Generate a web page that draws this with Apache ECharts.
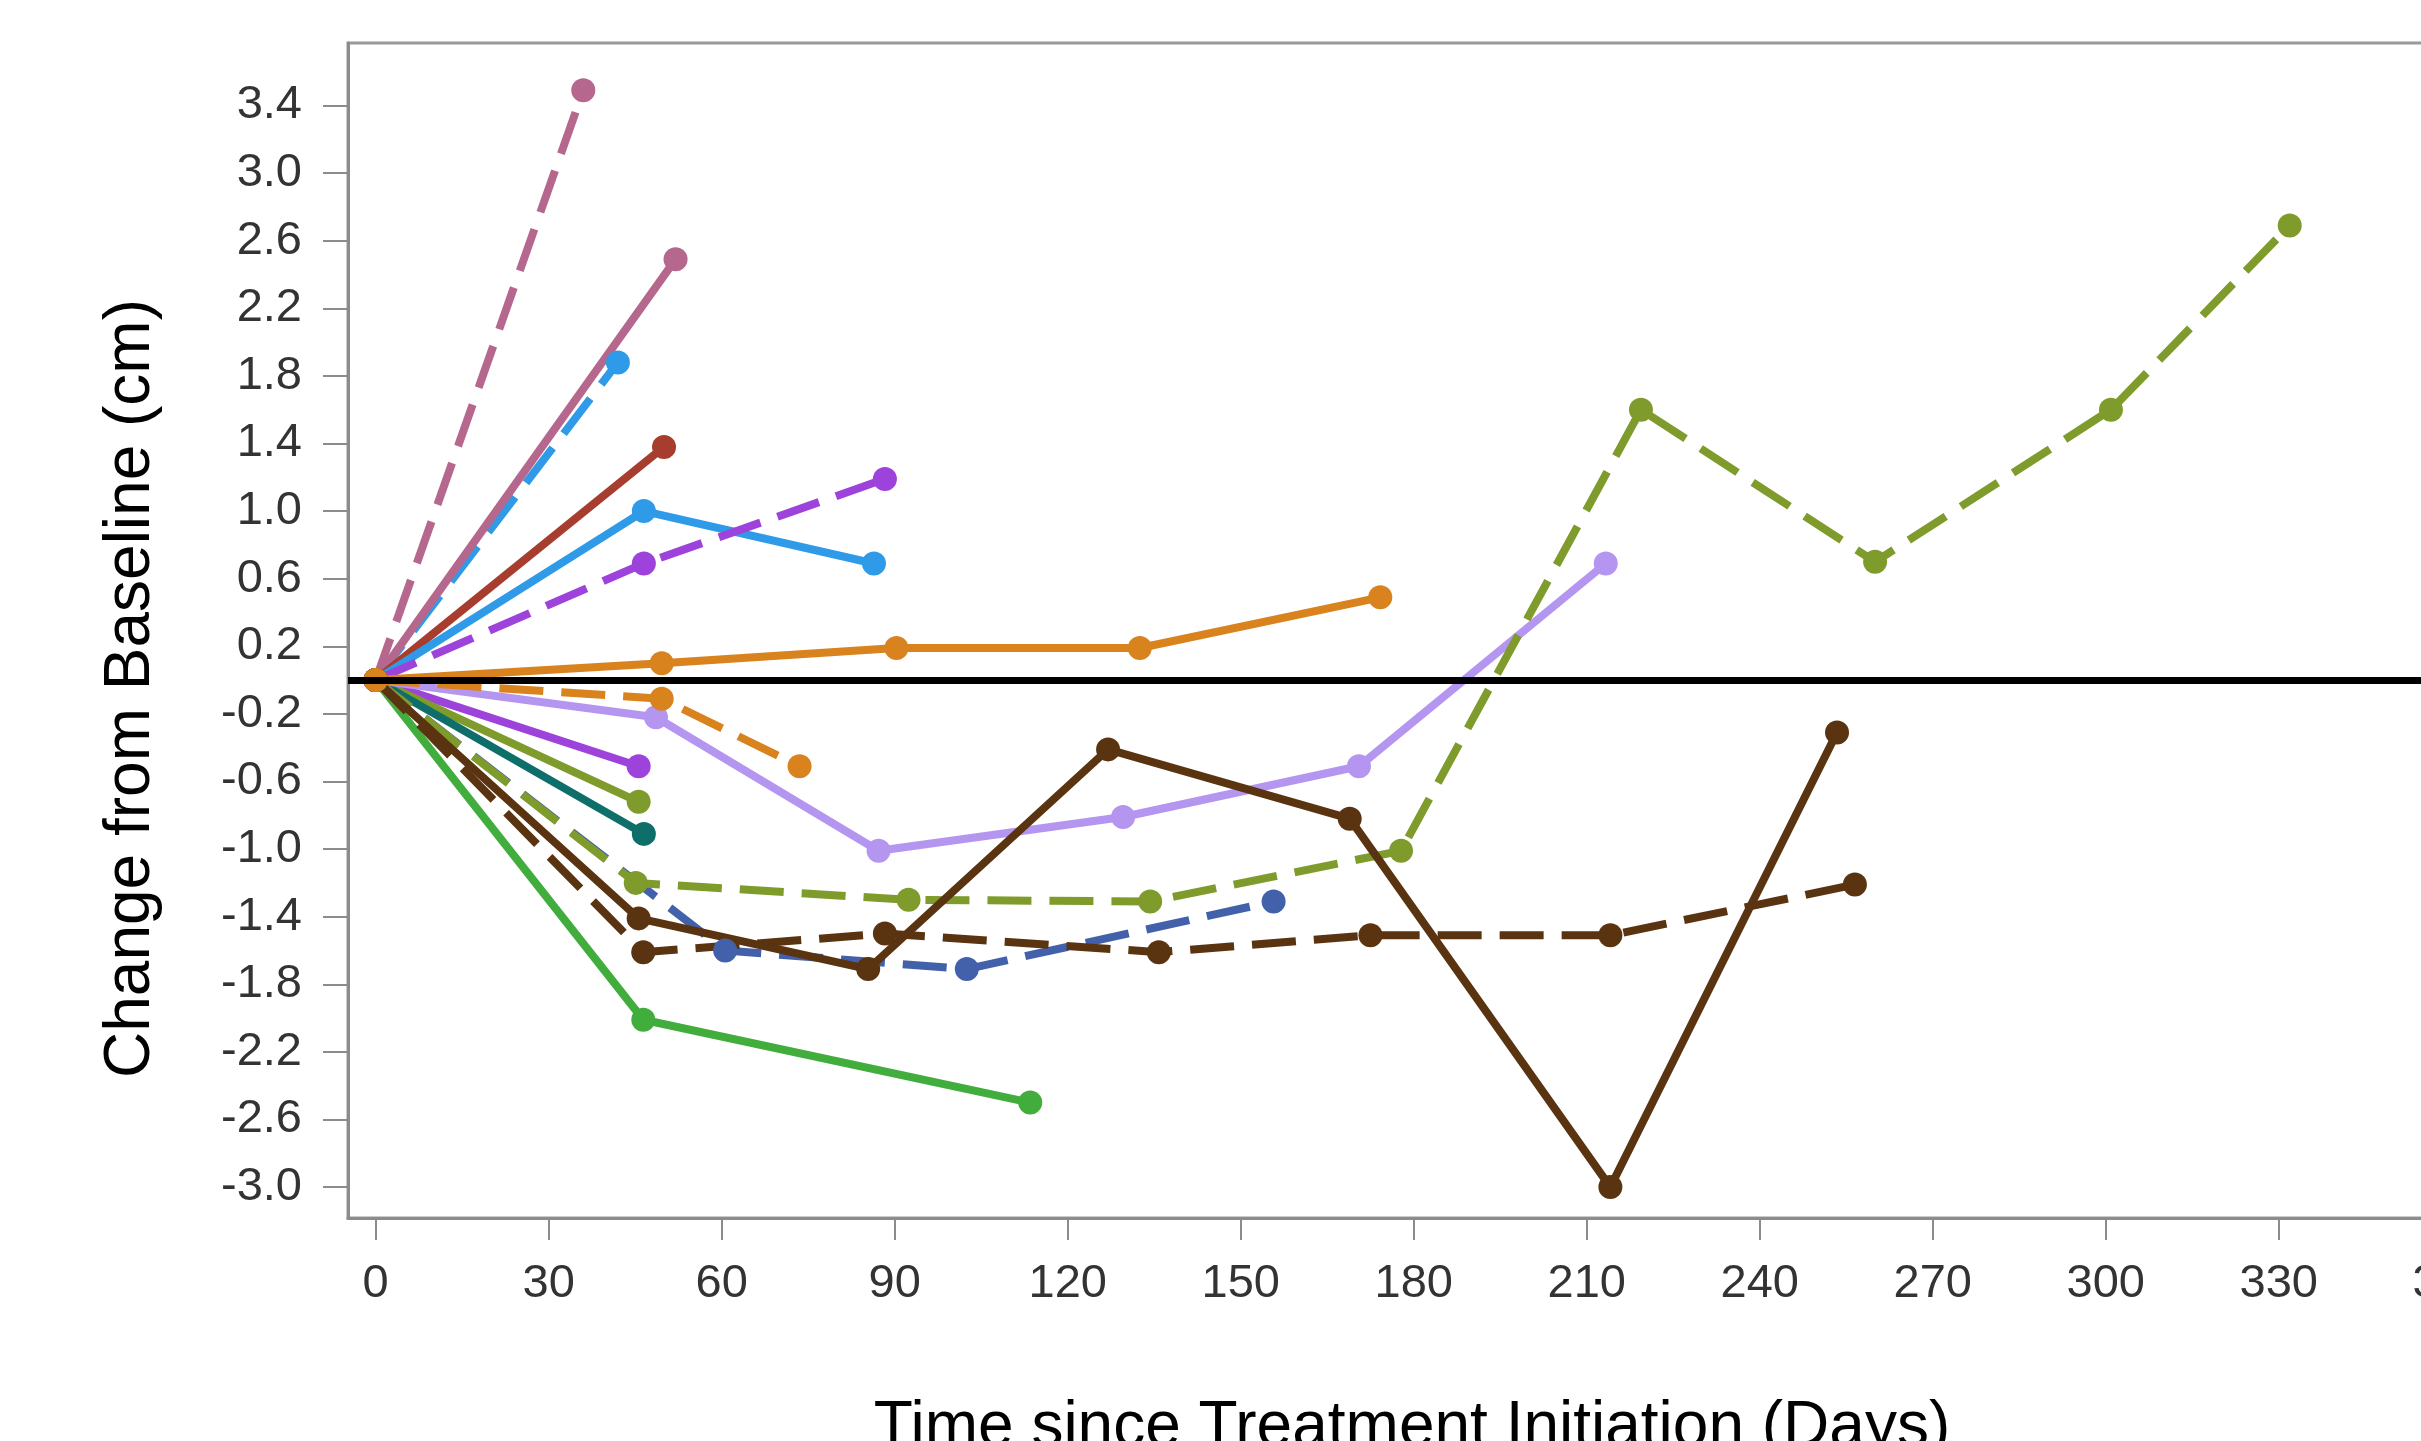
<!DOCTYPE html>
<html>
<head>
<meta charset="utf-8">
<title>Change from Baseline</title>
<script src="https://cdn.jsdelivr.net/npm/echarts@6/dist/echarts.min.js"></script>
<style>
	html, body { margin: 0; padding: 0; background: #fff; }
	#chart { width: 2421px; height: 1441px; }
</style>
</head>
<body>
<div id="chart"></div>
<script>
// tick labels
var xTicks = [0, 30, 60, 90, 120, 150, 180, 210, 240, 270, 300, 330, 360];
var yTicks = [-3.0, -2.6, -2.2, -1.8, -1.4, -1.0, -0.6, -0.2, 0.2, 0.6, 1.0, 1.4, 1.8, 2.2, 2.6, 3.0, 3.4];

// one array per subject: [day, change (cm)]
var mauveDash   = [[0, 0], [36, 3.49]];
var blueDash    = [[0, 0], [42, 1.88]];
var mauveSolid  = [[0, 0], [52, 2.49]];
var redSolid    = [[0, 0], [50, 1.38]];
var blueSolid   = [[0, 0], [46.5, 1.0], [86.4, 0.69]];
var purpleDash  = [[0, 0], [46.5, 0.69], [88.3, 1.19]];
var purpleSolid = [[0, 0], [45.6, -0.51]];
var oliveSolid  = [[0, 0], [45.6, -0.72]];
var tealSolid   = [[0, 0], [46.5, -0.91]];
var greenSolid  = [[0, 0], [46.4, -2.01], [113.5, -2.5]];
var lilacSolid  = [[0, 0], [48.6, -0.22], [87.2, -1.01], [129.6, -0.81], [170.5, -0.51], [213.3, 0.69]];
var navyDash    = [[0, 0], [60.6, -1.6], [102.5, -1.71], [155.7, -1.31]];
var oliveDash   = [[0, 0], [45.1, -1.2], [92.4, -1.3], [134.3, -1.31], [177.8, -1.01], [219.4, 1.6], [260, 0.7], [300.9, 1.6], [331.9, 2.69]];
var brownDash   = [[0, 0], [46.4, -1.61], [88.3, -1.5], [135.8, -1.61], [172.5, -1.51], [214.1, -1.51], [256.5, -1.21]];
var brownSolid  = [[0, 0], [45.6, -1.41], [85.4, -1.71], [127, -0.41], [168.9, -0.82], [214.1, -3.0], [253.4, -0.31]];
var orangeDash  = [[0, 0], [49.6, -0.11], [73.5, -0.51]];
var orangeSolid = [[0, 0], [49.6, 0.1], [90.3, 0.19], [132.5, 0.19], [174.2, 0.49]];

// draw order and look of each subject
var subjects = [
	{data: mauveDash,   color: '#b5678e', dash: true},
	{data: blueDash,    color: '#2f9be8', dash: true},
	{data: mauveSolid,  color: '#b5678e', dash: false},
	{data: redSolid,    color: '#a63d2e', dash: false},
	{data: blueSolid,   color: '#2f9be8', dash: false},
	{data: purpleDash,  color: '#9d42db', dash: true},
	{data: purpleSolid, color: '#9d42db', dash: false},
	{data: oliveSolid,  color: '#7f9b2c', dash: false},
	{data: tealSolid,   color: '#0e6e6a', dash: false},
	{data: greenSolid,  color: '#40ad3d', dash: false},
	{data: lilacSolid,  color: '#b495f0', dash: false},
	{data: navyDash,    color: '#4361aa', dash: true},
	{data: oliveDash,   color: '#7f9b2c', dash: true},
	{data: brownDash,   color: '#5a3410', dash: true},
	{data: brownSolid,  color: '#5a3410', dash: false},
	{data: orangeDash,  color: '#d9831f', dash: true},
	{data: orangeSolid, color: '#d9831f', dash: false}
];

var FONT = '"Liberation Sans", Arial, Helvetica, sans-serif';

var myChart = echarts.init(document.getElementById('chart'));

var series = [];
for (var i = 0; i < subjects.length; i++) {
	var s = subjects[i];
	series.push({
		type: 'line',
		data: s.data,
		symbol: 'circle',
		symbolSize: 24,
		showAllSymbol: true,
		itemStyle: {color: s.color},
		lineStyle: {color: s.color, width: 8, type: s.dash ? [44, 18] : 'solid'},
		emphasis: {disabled: true},
		z: 2
	});
}
// zero reference line on top
series[series.length - 1].markLine = {
	silent: true,
	symbol: 'none',
	z: 10,
	label: {show: false},
	lineStyle: {color: '#000', width: 7, type: 'solid'},
	data: [{yAxis: 0}]
};

var option = {
	animation: false,
	backgroundColor: '#fff',
	grid: {
		left: 348,
		top: 43,
		width: 2128,
		height: 1175,
		outerBoundsMode: 'none',
		containLabel: false,
		show: true,
		borderColor: '#999',
		borderWidth: 3,
		backgroundColor: '#fff'
	},
	xAxis: {
		type: 'value',
		min: -4.8,
		max: 364.2,
		name: 'Time since Treatment Initiation (Days)',
		nameLocation: 'middle',
		nameGap: 178,
		nameTextStyle: {fontSize: 64, lineHeight: 64, color: '#000', fontFamily: FONT},
		axisLine: {show: true, onZero: false, lineStyle: {color: '#8c8c8c', width: 3}},
		axisTick: {show: true, length: 22, customValues: xTicks, lineStyle: {color: '#8c8c8c', width: 2}},
		axisLabel: {customValues: xTicks, margin: 43, fontSize: 47, color: '#333', fontFamily: FONT},
		splitLine: {show: false}
	},
	yAxis: {
		type: 'value',
		min: -3.183,
		max: 3.77,
		name: 'Change from Baseline (cm)',
		nameLocation: 'middle',
		nameGap: 185,
		nameTextStyle: {fontSize: 64, lineHeight: 64, color: '#000', fontFamily: FONT, padding: [0, 116, 0, 0]},
		axisLine: {show: true, onZero: false, lineStyle: {color: '#8c8c8c', width: 3}},
		axisTick: {show: true, length: 25, customValues: yTicks, lineStyle: {color: '#8c8c8c', width: 2}},
		axisLabel: {
			customValues: yTicks,
			margin: 46,
			fontSize: 47,
			color: '#333',
			fontFamily: FONT,
			formatter: function(v) { return v.toFixed(1); }
		},
		splitLine: {show: false}
	},
	series: series
};

if (option && typeof option === "object") {
	myChart.setOption(option, true);
}
</script>
</body>
</html>
